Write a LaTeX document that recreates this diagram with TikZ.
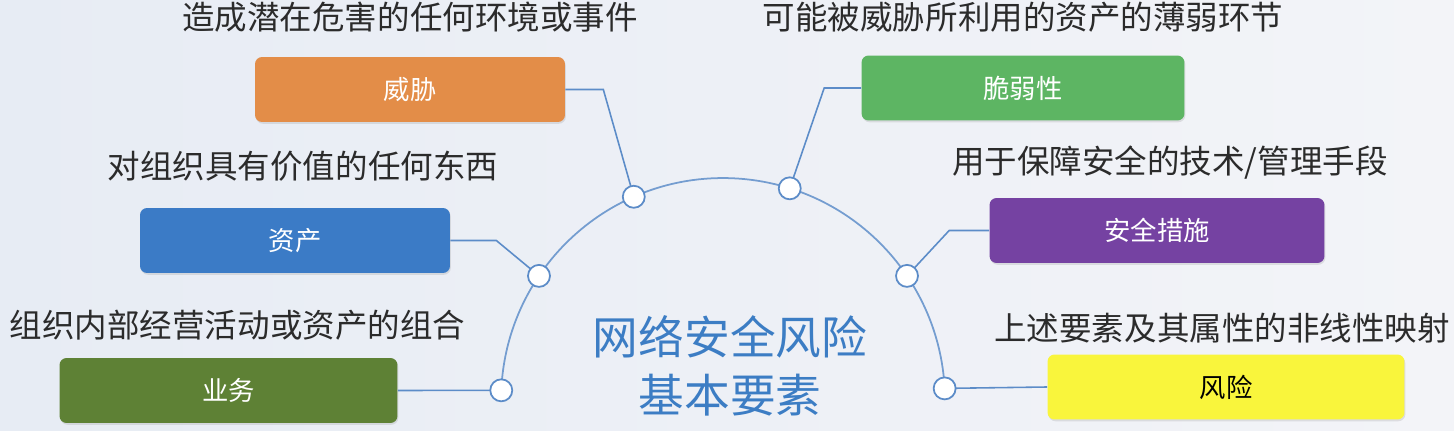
\documentclass[tikz,border=0pt]{standalone}
\usepackage{fontspec}
\setmainfont{Noto Sans CJK SC}
\usetikzlibrary{positioning,shadows}
\usepackage{xcolor}
\definecolor{BgLeft}{HTML}{E7ECF4}
\definecolor{BgRight}{HTML}{F3F4F8}
\definecolor{LinkBlue}{HTML}{5C8CC8}
\definecolor{TitleBlue}{HTML}{3C7DC4}
\definecolor{DescGray}{HTML}{2B2B2B}
\definecolor{ThreatOrange}{HTML}{E38D48}
\definecolor{AssetBlue}{HTML}{3B7BC6}
\definecolor{BizOlive}{HTML}{5E8135}
\definecolor{VulnGreen}{HTML}{5DB563}
\definecolor{CtrlPurple}{HTML}{7542A2}
\definecolor{RiskYellow}{HTML}{F9F53C}

\begin{document}
\begin{tikzpicture}[x=0.02cm, y=0.02cm,
  elem/.style={rounded corners=4pt, minimum height=1.3cm, inner sep=0pt,
               font=\fontsize{15}{18}\selectfont, text=white,
               drop shadow={shadow xshift=0.5pt, shadow yshift=-1pt, opacity=.2}},
  desc/.style={font=\fontsize{18.5}{22}\selectfont, text=DescGray, inner sep=0pt},
  link/.style={draw=LinkBlue, line width=0.9pt},
  hubdot/.style={circle, draw=LinkBlue, line width=1pt, fill=white,
                 minimum size=0.44cm, inner sep=0pt}
]
  % background
  \shade[left color=BgLeft, right color=BgRight] (0,0) rectangle (1454,430);

  % the six elements
  \node[elem, fill=ThreatOrange, minimum width=6.2cm] (threat) at (410,340.5) {威胁};
  \node[elem, fill=AssetBlue, minimum width=6.2cm] (asset) at (295,189.5) {资产};
  \node[elem, fill=BizOlive, minimum width=6.76cm] (biz) at (228.5,39.5) {业务};
  \node[elem, fill=VulnGreen, minimum width=6.46cm] (vuln) at (1023,342) {脆弱性};
  \node[elem, fill=CtrlPurple, minimum width=6.7cm] (ctrl) at (1157,199.5) {安全措施};
  \node[elem, fill=RiskYellow, minimum width=7.14cm, text=black] (risk) at (1226,43) {风险};

  \node[desc, above=0.48cm of threat] {造成潜在危害的任何环境或事件};
  \node[desc, above=0.52cm of asset, xshift=0.16cm] {对组织具有价值的任何东西};
  \node[desc, above=0.34cm of biz, xshift=0.18cm] {组织内部经营活动或资产的组合};
  \node[desc, above=0.44cm of vuln] {可能被威胁所利用的资产的薄弱环节};
  \node[desc, above=0.36cm of ctrl, xshift=0.26cm] {用于保障安全的技术/管理手段};
  \node[desc, above=0.22cm of risk, xshift=-0.08cm] {上述要素及其属性的非线性映射};

  % arc and its anchor points
  \coordinate (hub) at (723,30);
  \draw[draw=LinkBlue!85, line width=1pt] (hub) ++(177.5:4.44cm)
    arc[start angle=177.5, end angle=3, radius=4.44cm];
  \path (hub) ++(177.5:4.44cm) coordinate (pbiz);
  \path (hub) ++(146:4.44cm) coordinate (passet);
  \path (hub) ++(113.7:4.44cm) coordinate (pthreat);
  \path (hub) ++(72.5:4.44cm) coordinate (pvuln);
  \path (hub) ++(34:4.44cm) coordinate (pctrl);
  \path (hub) ++(3:4.44cm) coordinate (prisk);

  \draw[link] (threat.east) -- ++(38,0) -- (pthreat);
  \draw[link] (asset.east) -- ++(46,0) -- (passet);
  \draw[link] (biz.east) -- (pbiz);
  \draw[link] (vuln.west) -- ++(-37,0) -- (pvuln);
  \draw[link] (ctrl.west) -- ++(-40,0) -- (pctrl);
  \draw[link] (risk.west) -- (prisk);

  \foreach \p in {pbiz,passet,pthreat,pvuln,pctrl,prisk}
    \node[hubdot] at (\p) {};

  \node[font=\fontsize{26}{33}\selectfont, text=TitleBlue, align=center] (title)
    at (730,64) {网络安全风险\\基本要素};
\end{tikzpicture}
\end{document}
